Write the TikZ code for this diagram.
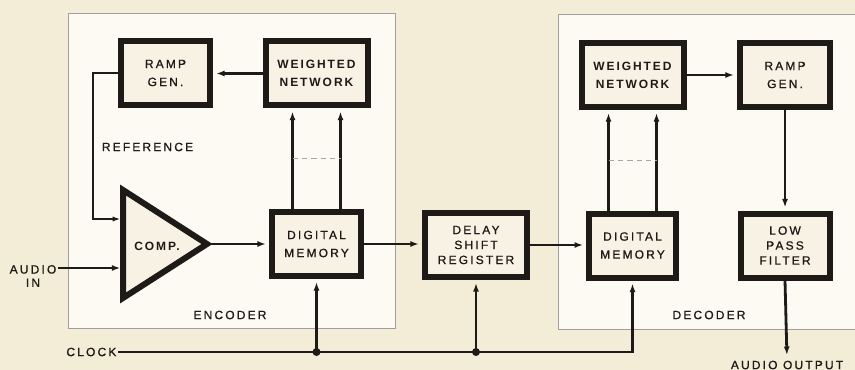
\documentclass[tikz,border=0pt]{standalone}
\usepackage{fontspec}
\setmainfont{Liberation Sans}
\newfontfamily\lblfont[LetterSpace=18,FakeBold=0.9]{Liberation Sans}
\newfontfamily\heavyfont[LetterSpace=16]{Liberation Sans}
\usetikzlibrary{arrows.meta}

\definecolor{paper}{RGB}{243,236,215}
\definecolor{panel}{RGB}{252,250,243}
\definecolor{blockfill}{RGB}{247,242,227}
\definecolor{ink}{RGB}{30,26,24}

\begin{document}
\begin{tikzpicture}[x=0.75pt,y=-0.75pt,
    blk/.style={draw=ink, line width=4.5pt, fill=blockfill, inner sep=0pt,
      align=center, minimum height=48pt, text=ink,
      font=\lblfont\fontsize{9}{13.5}\selectfont},
    heavy/.style={font=\heavyfont\bfseries\fontsize{9}{13.5}\selectfont},
    tight/.style={font=\lblfont\fontsize{9}{11.25}\selectfont},
    wire/.style={draw=ink, line width=2.1pt, -{Latex[length=6.5pt,width=4.5pt]}},
    toblk/.style={wire, shorten >=2.2pt},
    thinwire/.style={draw=ink, line width=1.4pt, -{Latex[length=6pt,width=4pt]}},
    lbl/.style={inner sep=1pt, text=ink, font=\lblfont\fontsize{9}{10}\selectfont},
    link/.style={draw=gray!70, line width=0.8pt, dash pattern=on 4pt off 3pt},
    panelline/.style={draw=gray!75, line width=0.7pt}]

    % --- 1. 底色與邊界 ---
    \fill[paper] (0,0) rectangle (855,370);
    \useasboundingbox (0,0) rectangle (855,370);
    \def\wA{66.75pt}
    \def\wB{76.5pt}
    \def\dx{18pt}

    % --- 2. 編碼器與解碼器的底框 ---
    \draw[panelline, fill=panel] (68,13) rectangle (395,328);
    \fill[panel] (558,14) rectangle (855,329);
    \draw[panelline] (855,14) -- (558,14) -- (558,329) -- (855,329);
    \node[lbl] (enc) at (230,315) {ENCODER};
    \node[lbl] (dec) at (709,315) {DECODER};

    % --- 3. 編碼器方塊 ---
    \node[blk, minimum width=\wA] (ramp1) at (165.5,73) {RAMP\\GEN.};
    \node[blk, heavy, minimum width=\wB] (wn1) at (316.5,73.5) {WEIGHTED\\NETWORK};
    \node[blk, minimum width=\wA] (mem1) at (316.5,244) {DIGITAL\\MEMORY};

    % --- 4. 比較器 (三角形) ---
    \coordinate (cmpT) at (123,190);
    \coordinate (cmpB) at (123,298);
    \coordinate (cmpO) at (207,244);
    \draw[draw=ink, fill=blockfill, line width=4.5pt, line join=miter] (cmpT) -- (cmpO) -- (cmpB) -- cycle;
    \node[inner sep=0pt, text=ink, font=\heavyfont\bfseries\fontsize{9}{10}\selectfont] (comp) at (157,246) {COMP.};

    % --- 5. 延遲與解碼器方塊 ---
    \node[blk, tight, minimum width=\wB] (dsr) at (476,245) {DELAY\\SHIFT\\REGISTER};
    \node[blk, minimum width=65pt] (mem2) at (632.5,245.5) {DIGITAL\\MEMORY};
    \node[blk, heavy, minimum width=\wB] (wn2) at (632.5,75) {WEIGHTED\\NETWORK};
    \node[blk, minimum width=67.5pt] (ramp2) at (785,75) {RAMP\\GEN.};
    \node[blk, tight, minimum width=\wA] (lpf) at (785,245.5) {LOW\\PASS\\FILTER};

    % --- 6. 標籤 ---
    \node[lbl] (ref) at (147.5,147) {REFERENCE};
    \node[lbl, align=center] (ain) at (33,276) {AUDIO\\IN};
    \node[lbl, anchor=east] (clk) at (118,352) {CLOCK};
    \node[lbl] (aout) at (787,365) {AUDIO OUTPUT};
    \coordinate (refin) at (120.5,219);
    \coordinate (ainin) at (120.5,268);

    % --- 7. 編碼器連線 ---
    \draw[thinwire] (ramp1.west) -- (93,73) -- (93,219) -- (refin);
    \draw[wire] (ain.east |- ainin) -- (ainin);
    \draw[toblk] (cmpO) -- (mem1.west |- cmpO);
    \draw[toblk] (wn1.west) -- (ramp1.east |- wn1.west);
    \draw[toblk] ([xshift=-\dx]mem1.north) -- ([xshift=-\dx]wn1.south);
    \draw[toblk] ([xshift=\dx]mem1.north) -- ([xshift=\dx]wn1.south);
    \path (mem1.north) -- (wn1.south) coordinate[pos=.5] (mid1);
    \draw[link] ([xshift=-\dx]mid1) -- ([xshift=\dx]mid1);

    % --- 8. 解碼器連線 ---
    \draw[toblk] (mem1.east) -- (dsr.west |- mem1.east);
    \draw[toblk] (dsr.east) -- (mem2.west |- dsr.east);
    \draw[toblk] ([xshift=-\dx]mem2.north) -- ([xshift=-\dx]wn2.south);
    \draw[toblk] ([xshift=\dx]mem2.north) -- ([xshift=\dx]wn2.south);
    \path (mem2.north) -- (wn2.south) coordinate[pos=.5] (mid2);
    \draw[link] ([xshift=-\dx]mid2) -- ([xshift=\dx]mid2);
    \draw[toblk] (wn2.east) -- (ramp2.west |- wn2.east);
    \draw[toblk] (ramp2.south) -- (lpf.north);
    \draw[wire, shorten >=3pt] (lpf.south) -- (aout.north);

    % --- 9. 時脈線 ---
    \draw[toblk] (clk.east) -- (mem2.south |- clk.east) -- (mem2.south);
    \draw[toblk] (mem1.south |- clk.east) -- (mem1.south);
    \draw[toblk] (dsr.south |- clk.east) -- (dsr.south);
    \fill[ink] (mem1.south |- clk.east) circle (3pt);
    \fill[ink] (dsr.south |- clk.east) circle (3pt);

\end{tikzpicture}
\end{document}
